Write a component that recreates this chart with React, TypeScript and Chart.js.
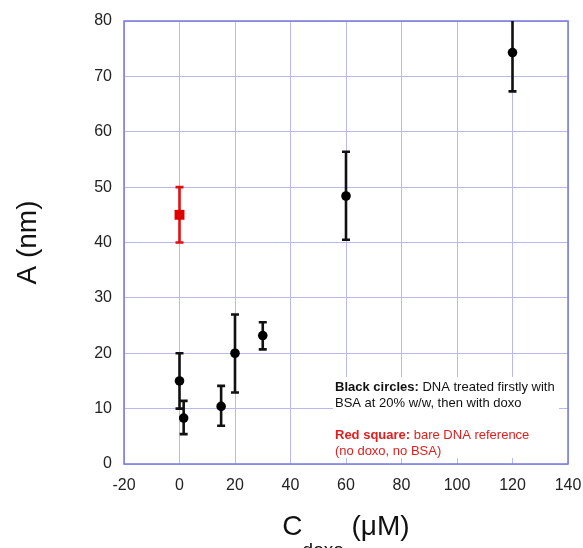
import React, { useEffect, useRef } from "react";
import { Chart, registerables } from "chart.js";

Chart.register(...registerables);

// Black circles: DNA treated with BSA then doxo
const blackX = [0, 1.5, 15, 20, 30, 60, 120];
const blackY = [15, 8.3, 10.4, 20, 23.2, 48.4, 74.3];
const blackLow = [10, 5.4, 6.9, 12.9, 20.7, 40.5, 67.3];
const blackHigh = [20, 11.4, 14.1, 27.0, 25.6, 56.4, 81.3];

// Red square: bare DNA reference
const redX = [0];
const redY = [45];
const redLow = [40];
const redHigh = [50];

const xTicks = [-20, 0, 20, 40, 60, 80, 100, 120, 140];
const yTicks = [0, 10, 20, 30, 40, 50, 60, 70, 80];

const legendBlackBold = "Black circles:";
const legendBlackRest1 = " DNA treated firstly with";
const legendBlackLine2 = "BSA at 20% w/w, then with doxo";
const legendRedBold = "Red square:";
const legendRedRest1 = " bare DNA reference";
const legendRedLine2 = "(no doxo, no BSA)";

const FONT = "'Liberation Sans', Arial, sans-serif";
const GRID = "rgb(184,184,242)";
const FRAME = "rgb(120,120,222)";

export default function App() {
  const ref = useRef<HTMLCanvasElement | null>(null);

  useEffect(() => {
    document.body.style.margin = "0";
    const canvas = ref.current;
    if (!canvas) return;

    const blackData = blackX.map((x, i) => ({ x, y: blackY[i] }));
    const redData = redX.map((x, i) => ({ x, y: redY[i] }));
    const errSets = [
      { xs: blackX, lo: blackLow, hi: blackHigh, color: "#111111" },
      { xs: redX, lo: redLow, hi: redHigh, color: "#e01010" },
    ];

    const custom = {
      id: "custom",
      beforeDatasetsDraw(chart: any) {
        const { ctx, chartArea: a, scales } = chart;
        const xs = scales.x;
        const ys = scales.y;
        ctx.save();
        // legend box (white, covers grid)
        ctx.fillStyle = "#ffffff";
        ctx.fillRect(333, 377, 226, 81);
        // frame
        ctx.strokeStyle = FRAME;
        ctx.lineWidth = 1.5;
        ctx.strokeRect(a.left, a.top, a.right - a.left, a.bottom - a.top);
        // legend text
        ctx.textBaseline = "alphabetic";
        ctx.textAlign = "left";
        const lx = 335;
        const fs = 13;
        ctx.fillStyle = "#111111";
        ctx.font = `bold ${fs}px ${FONT}`;
        ctx.fillText(legendBlackBold, lx, 390.5);
        let w = ctx.measureText(legendBlackBold).width;
        ctx.font = `${fs}px ${FONT}`;
        ctx.fillText(legendBlackRest1, lx + w, 390.5);
        ctx.fillText(legendBlackLine2, lx, 406.5);
        ctx.fillStyle = "#e02020";
        ctx.font = `bold ${fs}px ${FONT}`;
        ctx.fillText(legendRedBold, lx, 438.5);
        w = ctx.measureText(legendRedBold).width;
        ctx.font = `${fs}px ${FONT}`;
        ctx.fillText(legendRedRest1, lx + w, 438.5);
        ctx.fillText(legendRedLine2, lx, 454.5);
        // error bars
        ctx.beginPath();
        ctx.rect(a.left, a.top, a.right - a.left, a.bottom - a.top);
        ctx.clip();
        ctx.lineWidth = 2.6;
        for (const s of errSets) {
          ctx.strokeStyle = s.color;
          s.xs.forEach((xv, i) => {
            const px = xs.getPixelForValue(xv);
            const pl = ys.getPixelForValue(s.lo[i]);
            const ph = ys.getPixelForValue(s.hi[i]);
            ctx.beginPath();
            ctx.moveTo(px, pl);
            ctx.lineTo(px, ph);
            ctx.moveTo(px - 4, pl);
            ctx.lineTo(px + 4, pl);
            ctx.moveTo(px - 4, ph);
            ctx.lineTo(px + 4, ph);
            ctx.stroke();
          });
        }
        ctx.restore();
      },
      afterDraw(chart: any) {
        const { ctx, chartArea: a } = chart;
        ctx.save();
        ctx.fillStyle = "#111111";
        // y title
        ctx.font = `28px ${FONT}`;
        ctx.textAlign = "center";
        ctx.textBaseline = "middle";
        ctx.translate(28, (a.top + a.bottom) / 2);
        ctx.rotate(-Math.PI / 2);
        ctx.fillText("A (nm)", 0, 0);
        ctx.restore();
        // x title with subscript
        ctx.save();
        ctx.fillStyle = "#111111";
        ctx.textBaseline = "alphabetic";
        ctx.textAlign = "left";
        const big = `28px ${FONT}`;
        const small = `19px ${FONT}`;
        ctx.font = big;
        const wC = ctx.measureText("C").width;
        const wR = ctx.measureText(" (\u03bcM)").width;
        ctx.font = small;
        const wS = ctx.measureText("doxo").width;
        const total = wC + wS + wR;
        let x0 = (a.left + a.right) / 2 - total / 2;
        const base = 535;
        ctx.font = big;
        ctx.fillText("C", x0, base);
        x0 += wC;
        ctx.font = small;
        ctx.fillText("doxo", x0, base + 21);
        x0 += wS;
        ctx.font = big;
        ctx.fillText(" (\u03bcM)", x0, base);
        ctx.restore();
      },
    };

    const chart = new Chart(canvas, {
      type: "scatter",
      data: {
        datasets: [
          {
            label: "Black circles",
            data: blackData,
            pointStyle: "circle",
            pointRadius: 4.8,
            pointBackgroundColor: "#000000",
            pointBorderColor: "#000000",
            pointBorderWidth: 0,
          },
          {
            label: "Red square",
            data: redData,
            pointStyle: "rect",
            pointRadius: 7,
            pointBackgroundColor: "#e00000",
            pointBorderColor: "#e00000",
            pointBorderWidth: 0,
          },
        ],
      },
      options: {
        responsive: false,
        animation: false,
        layout: { padding: { left: 0, top: 21, right: 15, bottom: 0 } },
        plugins: {
          legend: { display: false },
          tooltip: { enabled: false },
          title: { display: false },
        },
        scales: {
          x: {
            type: "linear",
            min: -20,
            max: 140,
            afterFit: (s: any) => {
              s.height = 84;
              s.paddingLeft = 0;
              s.paddingRight = 0;
            },
            afterBuildTicks: (s: any) => {
              s.ticks = xTicks.map((v) => ({ value: v }));
            },
            ticks: {
              color: "#222222",
              font: { family: FONT, size: 16 },
              padding: 12,
            },
            grid: { color: GRID, lineWidth: 1, drawTicks: false },
            border: { display: false },
          },
          y: {
            type: "linear",
            min: 0,
            max: 80,
            afterFit: (s: any) => {
              s.width = 124;
              s.paddingTop = 0;
              s.paddingBottom = 0;
            },
            afterBuildTicks: (s: any) => {
              s.ticks = yTicks.map((v) => ({ value: v }));
            },
            ticks: {
              color: "#222222",
              font: { family: FONT, size: 16 },
              padding: 12,
            },
            grid: { color: GRID, lineWidth: 1, drawTicks: false },
            border: { display: false },
          },
        },
      },
      plugins: [custom],
    });

    return () => chart.destroy();
  }, []);

  return (
    <div style={{ width: 583, height: 548, background: "#ffffff" }}>
      <canvas ref={ref} width={583} height={548} style={{ display: "block" }} />
    </div>
  );
}
